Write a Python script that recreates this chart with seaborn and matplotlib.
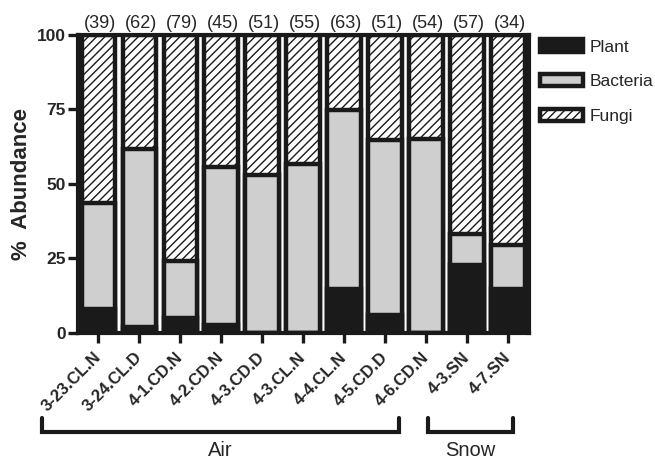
import numpy as np
import pandas as pd
import matplotlib
matplotlib.use("Agg")
import matplotlib.pyplot as plt
import matplotlib.transforms as mtransforms
from matplotlib.patches import Patch
import seaborn as sns

# ---- data ----
samples = ["3-23.CL.N", "3-24.CL.D", "4-1.CD.N", "4-2.CD.N", "4-3.CD.D",
           "4-3.CL.N", "4-4.CL.N", "4-5.CD.D", "4-6.CD.N", "4-3.SN", "4-7.SN"]
plant = [7.8, 2.0, 5.0, 2.5, 0.0, 0.0, 14.5, 6.0, 0.0, 22.7, 14.7]
bacteria = [35.7, 59.5, 19.0, 53.0, 53.0, 56.5, 60.0, 58.5, 65.0, 10.3, 14.8]
fungi = [56.5, 38.5, 76.0, 44.5, 47.0, 43.5, 25.5, 35.5, 35.0, 67.0, 70.5]
counts = [39, 62, 79, 45, 51, 55, 63, 51, 54, 57, 34]
yticks = [0, 25, 50, 75, 100]
group_names = ["Air", "Snow"]
group_spans = [(-1.37, 7.33), (8.05, 10.11)]

sns.set_style("ticks")
plt.rcParams["font.family"] = ["Liberation Sans", "DejaVu Sans"]
plt.rcParams["hatch.linewidth"] = 1.0
plt.rcParams["hatch.color"] = "#1a1a1a"

BLACK = "#1a1a1a"
GRAY = "#cfcfcf"
LW = 3.2
BW = 0.823

df = pd.DataFrame({"sample": samples, "plant": plant, "bacteria": bacteria, "fungi": fungi})
df["c_plant"] = df["plant"]
df["c_bact"] = df["plant"] + df["bacteria"]
df["c_fungi"] = df["c_bact"] + df["fungi"]

fig = plt.figure(figsize=(6.55, 4.62), dpi=100)
ax = fig.add_axes([0.119, 0.2803, 0.688, 0.645])

sns.barplot(data=df, x="sample", y="c_fungi", color="white", edgecolor=BLACK,
            linewidth=LW, width=BW, hatch="////", errorbar=None, ax=ax, saturation=1)
sns.barplot(data=df, x="sample", y="c_bact", color=GRAY, edgecolor=BLACK,
            linewidth=LW, width=BW, errorbar=None, ax=ax, saturation=1)
sns.barplot(data=df, x="sample", y="c_plant", color=BLACK, edgecolor=BLACK,
            linewidth=LW, width=BW, errorbar=None, ax=ax, saturation=1)

ax.set_xlim(-0.5, len(samples) - 0.5)
ax.set_ylim(0, 100)
ax.set_yticks(yticks)
ax.set_yticklabels([str(v) for v in yticks], fontsize=12.5, fontweight="bold")
ax.set_xticks(range(len(samples)))
ax.set_xticklabels(samples, rotation=45, ha="right", va="center", rotation_mode="anchor",
                   fontsize=12, fontweight="bold")
ax.tick_params(axis="both", length=7.2, width=2.4, color=BLACK, direction="out")
ax.tick_params(axis="y", pad=1.5)
ax.tick_params(axis="x", pad=9)
for s in ax.spines.values():
    s.set_visible(True)
    s.set_linewidth(3)
    s.set_color(BLACK)

ax.set_xlabel("")
ax.set_ylabel("%  Abundance", fontsize=16, fontweight="bold")
ax.yaxis.set_label_coords(-0.103, 0.5)

for i, n in enumerate(counts):
    ax.text(i + 0.04, 103.6, f"({n})", ha="center", va="center", fontsize=13,
            clip_on=False)

# group brackets
trans = mtransforms.blended_transform_factory(ax.transData, ax.transAxes)
for name, (x0, x1) in zip(group_names, group_spans):
    yt, yb = -0.287, -0.334
    ax.plot([x0, x0, x1, x1], [yt, yb, yb, yt], color=BLACK, lw=3,
            transform=trans, clip_on=False, solid_joinstyle="miter")
    ax.text((x0 + x1) / 2, -0.397, name, transform=trans, ha="center", va="center",
            fontsize=14.5)

handles = [
    Patch(facecolor=BLACK, edgecolor=BLACK, linewidth=LW, label="Plant"),
    Patch(facecolor=GRAY, edgecolor=BLACK, linewidth=LW, label="Bacteria"),
    Patch(facecolor="white", edgecolor=BLACK, linewidth=LW, hatch="////", label="Fungi"),
]
fig.legend(handles=handles, loc="upper left", bbox_to_anchor=(0.824, 0.915),
           bbox_transform=fig.transFigure, frameon=False, borderpad=0,
           borderaxespad=0, fontsize=12.5, handlelength=2.5, handleheight=0.72,
           handletextpad=0.35, labelspacing=1.12)

fig.savefig("out.png", dpi=100)
